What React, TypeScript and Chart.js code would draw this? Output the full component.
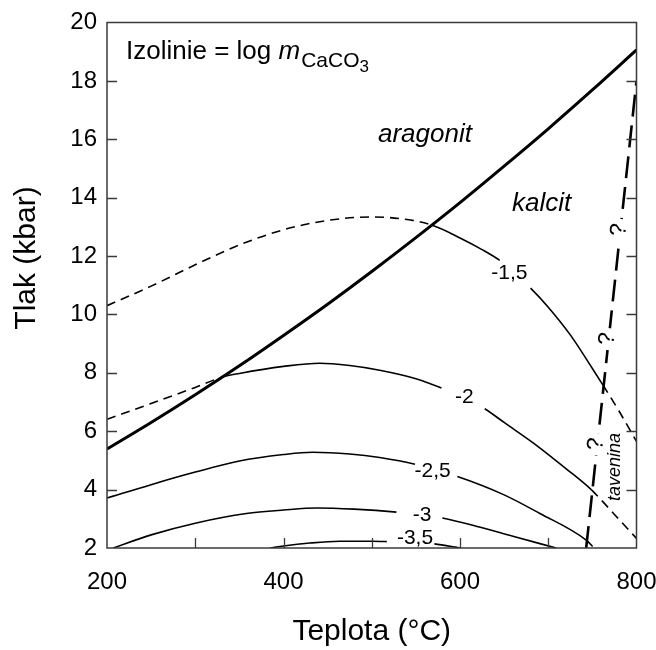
import React, { useEffect, useRef } from 'react';
import { Chart, registerables } from 'chart.js';

Chart.register(...registerables);

// ---------- data (T in °C, P in kbar) ----------
const boundaryT = [200, 250, 300, 350, 400, 450, 500, 550, 600, 650, 700, 750, 800];
const boundaryP = [5.39, 6.3, 7.25, 8.24, 9.28, 10.35, 11.47, 12.63, 13.83, 15.08, 16.36, 17.69, 19.06];

const meltT = [743, 800];
const meltP = [2, 18];

// isolines: points, dashed ranges (T), label gaps (T)
const c15 = [[200, 10.3], [250, 10.97], [300, 11.7], [350, 12.38], [400, 12.9], [450, 13.22], [500, 13.34], [540, 13.25], [568, 13.06], [600, 12.62], [625, 12.22], [645, 11.85], [660, 11.47], [680, 10.9], [700, 10.25], [725, 9.3], [750, 8.15], [762, 7.58], [780, 6.7], [800, 5.65]];
const c15Dash = [[200, 568], [762, 800]];
const c15Gap = [[645, 680]];

const c20 = [[200, 6.41], [250, 6.95], [300, 7.5], [331, 7.86], [350, 7.98], [400, 8.22], [441, 8.33], [475, 8.25], [509, 8.09], [550, 7.8], [579, 7.48], [605, 7.14], [628, 6.77], [650, 6.3], [687, 5.51], [720, 4.72], [749, 3.99], [775, 3.15], [800, 2.33]];
const c20Dash = [[200, 331], [749, 800]];
const c20Gap = [[579, 628]];

const c25 = [[200, 3.71], [250, 4.17], [300, 4.6], [350, 4.98], [400, 5.2], [433, 5.28], [475, 5.22], [509, 5.1], [549, 4.87], [570, 4.68], [597, 4.45], [650, 3.82], [690, 3.19], [743, 2.27], [752, 2.0]];
const c25Dash = [[743, 752]];
const c25Gap = [[549, 597]];

const c30 = [[207, 2.0], [250, 2.45], [300, 2.85], [358, 3.18], [400, 3.3], [438, 3.37], [480, 3.33], [528, 3.23], [555, 3.14], [580, 3.03], [622, 2.72], [660, 2.4], [709, 2.0]];
const c30Dash: number[][] = [];
const c30Gap = [[528, 580]];

const c35 = [[385, 2.0], [400, 2.07], [430, 2.17], [464, 2.23], [501, 2.23], [517, 2.22], [545, 2.19], [571, 2.14], [600, 2.0]];
const c35Dash: number[][] = [];
const c35Gap = [[517, 571]];

const contourLabels = ['-1,5', '-2', '-2,5', '-3', '-3,5'];
const contourLabelT = [656, 605, 569, 557, 549];
const contourLabelP = [11.42, 7.17, 4.63, 3.13, 2.32];

const questionP = [5.56, 9.16, 12.9];

const xTickLabels = [200, 400, 600, 800];
const xTickMarks = [300, 400, 500, 600, 700];
const yTickValues = [4, 6, 8, 10, 12, 14, 16, 18];

const FONT = '"Liberation Sans", Arial, Helvetica, sans-serif';

const pts = (arr: number[][]) => arr.map(([x, y]) => ({ x, y }));
const zip = (xs: number[], ys: number[]) => xs.map((x, i) => ({ x, y: ys[i] }));

function lineSet(data: { x: number; y: number }[], width: number, dash: number[] = []) {
  return {
    data,
    borderColor: '#000',
    borderWidth: width,
    borderDash: dash,
    pointRadius: 0,
    fill: false,
    cubicInterpolationMode: 'monotone' as const,
    borderCapStyle: 'butt' as const,
  };
}

function contourSet(points: number[][], dashR: number[][], gapR: number[][]) {
  const inR = (r: number[][], a: number, b: number) => r.some(([lo, hi]) => a >= lo - 1e-6 && b <= hi + 1e-6);
  return {
    ...lineSet(pts(points), 1.6),
    segment: {
      borderColor: (c: any) => (inR(gapR, c.p0.parsed.x, c.p1.parsed.x) ? 'rgba(0,0,0,0)' : undefined),
      borderDash: (c: any) => (inR(dashR, c.p0.parsed.x, c.p1.parsed.x) ? [9, 6] : undefined),
    },
  };
}

const overlay = {
  id: 'overlay',
  afterDraw(chart: any) {
    const { ctx, chartArea: a, scales } = chart;
    const x = scales.x;
    const y = scales.y;
    ctx.save();

    // frame
    ctx.strokeStyle = '#3a3a3a';
    ctx.lineWidth = 1.5;
    ctx.strokeRect(a.left, a.top, a.right - a.left, a.bottom - a.top);

    // inward ticks
    ctx.beginPath();
    ctx.lineWidth = 1.3;
    for (const v of yTickValues) {
      const py = Math.round(y.getPixelForValue(v)) + 0.5;
      ctx.moveTo(a.left, py);
      ctx.lineTo(a.left + 10, py);
      ctx.moveTo(a.right, py);
      ctx.lineTo(a.right - 10, py);
    }
    for (const v of xTickMarks) {
      const px = Math.round(x.getPixelForValue(v)) + 0.5;
      ctx.moveTo(px, a.bottom);
      ctx.lineTo(px, a.bottom - 10);
    }
    ctx.stroke();

    ctx.fillStyle = '#000';

    // contour labels
    ctx.font = `21px ${FONT}`;
    ctx.textAlign = 'center';
    ctx.textBaseline = 'middle';
    contourLabels.forEach((t, i) => {
      ctx.fillText(t, x.getPixelForValue(contourLabelT[i]), y.getPixelForValue(contourLabelP[i]));
    });

    // question marks along the dashed boundary
    const x0 = x.getPixelForValue(meltT[0]);
    const y0 = y.getPixelForValue(meltP[0]);
    const x1 = x.getPixelForValue(meltT[1]);
    const y1 = y.getPixelForValue(meltP[1]);
    const ang = Math.atan2(y1 - y0, x1 - x0);
    ctx.font = `23px ${FONT}`;
    for (const p of questionP) {
      const t = meltT[0] + ((p - meltP[0]) / (meltP[1] - meltP[0])) * (meltT[1] - meltT[0]);
      const px = x.getPixelForValue(t) - 2;
      const py = y.getPixelForValue(p);
      ctx.save();
      ctx.translate(px, py);
      ctx.rotate(ang);
      ctx.fillStyle = '#fff';
      ctx.fillRect(-11, -4, 22, 8);
      ctx.fillStyle = '#000';
      ctx.fillText('?', 0, 1);
      ctx.restore();
    }

    // phase labels
    ctx.textAlign = 'left';
    ctx.textBaseline = 'alphabetic';
    ctx.font = `italic 26px ${FONT}`;
    ctx.fillText('aragonit', 378, 142);
    ctx.fillText('kalcit', 512, 211);

    ctx.save();
    ctx.translate(615, 467);
    ctx.rotate(-Math.PI / 2);
    ctx.font = `italic 18px ${FONT}`;
    ctx.textAlign = 'center';
    ctx.textBaseline = 'middle';
    ctx.fillText('tavenina', 0, 0);
    ctx.restore();

    // header text
    let cx = 126;
    ctx.font = `26px ${FONT}`;
    const s1 = 'Izolinie = log ';
    ctx.fillText(s1, cx, 59);
    cx += ctx.measureText(s1).width;
    ctx.font = `italic 26px ${FONT}`;
    ctx.fillText('m', cx, 59);
    cx += ctx.measureText('m').width + 1;
    ctx.font = `21px ${FONT}`;
    ctx.fillText('CaCO', cx, 67);
    cx += ctx.measureText('CaCO').width;
    ctx.font = `17px ${FONT}`;
    ctx.fillText('3', cx, 72);

    // axis titles
    ctx.font = `30px ${FONT}`;
    ctx.textAlign = 'center';
    ctx.textBaseline = 'middle';
    ctx.fillText('Teplota (°C)', (a.left + a.right) / 2, 632);
    ctx.save();
    ctx.translate(27, 258);
    ctx.rotate(-Math.PI / 2);
    ctx.fillText('Tlak (kbar)', 0, 0);
    ctx.restore();

    ctx.restore();
  },
};

export default function App() {
  const ref = useRef<HTMLCanvasElement | null>(null);

  useEffect(() => {
    if (!ref.current) return;
    const datasets = [
      lineSet(zip(boundaryT, boundaryP), 3),
      lineSet(zip(meltT, meltP), 2.6, [22, 9]),
      contourSet(c15, c15Dash, c15Gap),
      contourSet(c20, c20Dash, c20Gap),
      contourSet(c25, c25Dash, c25Gap),
      contourSet(c30, c30Dash, c30Gap),
      contourSet(c35, c35Dash, c35Gap),
    ];
    const chart = new Chart(ref.current, {
      type: 'line',
      data: { datasets: datasets as any },
      options: {
        animation: false,
        responsive: false,
        devicePixelRatio: 1,
        layout: { padding: { left: 0, right: 19.5, top: 22.5, bottom: 0 } },
        plugins: { legend: { display: false }, tooltip: { enabled: false } },
        scales: {
          x: {
            type: 'linear',
            min: 200,
            max: 800,
            grid: { display: false, drawTicks: false },
            border: { display: false },
            afterFit: (s: any) => { s.height = 102; s.paddingLeft = 0; s.paddingRight = 0; },
            afterBuildTicks: (s: any) => { s.ticks = xTickLabels.map((v) => ({ value: v })); },
            ticks: { color: '#000', padding: 20, font: { size: 24, family: FONT }, maxRotation: 0 },
          },
          y: {
            type: 'linear',
            min: 2,
            max: 20,
            grid: { display: false, drawTicks: false },
            border: { display: false },
            afterFit: (s: any) => { s.width = 107; s.paddingTop = 0; s.paddingBottom = 0; },
            ticks: { color: '#000', stepSize: 2, padding: 10, font: { size: 24, family: FONT } },
          },
        },
      } as any,
      plugins: [overlay],
    });
    return () => chart.destroy();
  }, []);

  return (
    <div style={{ position: 'absolute', left: 0, top: 0, width: 656, height: 650, background: '#fff' }}>
      <canvas ref={ref} width={656} height={650} style={{ display: 'block' }} />
    </div>
  );
}
